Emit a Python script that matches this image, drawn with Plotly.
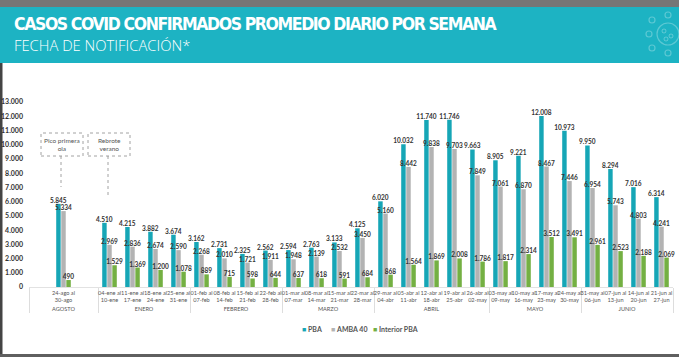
import plotly.graph_objects as go

# ---------------- data ----------------
week_labels = [
    "24-ago al<br>30-ago",
    "04-ene al<br>10-ene", "11-ene al<br>17-ene", "18-ene al<br>24-ene", "25-ene al<br>31-ene",
    "01-feb al<br>07-feb", "08-feb al<br>14-feb", "15-feb al<br>21-feb", "22-feb al<br>28-feb",
    "01-mar al<br>07-mar", "08-mar al<br>14-mar", "15-mar al<br>21-mar", "22-mar al<br>28-mar",
    "29-mar al<br>04-abr", "05-abr al<br>11-abr", "12-abr al<br>18-abr", "19-abr al<br>25-abr",
    "26-abr al<br>02-may",
    "03-may al<br>09-may", "10-may al<br>16-may", "17-may al<br>23-may", "24-may al<br>30-may",
    "31-may al<br>06-jun", "07-jun al<br>13-jun", "14-jun al<br>20-jun", "21-jun al<br>27-jun",
]
month_labels = [
    "AGOSTO",
    "ENERO", "ENERO", "ENERO", "ENERO",
    "FEBRERO", "FEBRERO", "FEBRERO", "FEBRERO",
    "MARZO", "MARZO", "MARZO", "MARZO",
    "ABRIL", "ABRIL", "ABRIL", "ABRIL", "ABRIL",
    "MAYO", "MAYO", "MAYO", "MAYO",
    "JUNIO", "JUNIO", "JUNIO", "JUNIO",
]
pba = [5845, 4510, 4215, 3882, 3674, 3162, 2731, 2325, 2562, 2594, 2763, 3133, 4125,
       6020, 10032, 11740, 11746, 9663, 8905, 9221, 12008, 10973, 9950, 8294, 7016, 6314]
amba40 = [5334, 2969, 2836, 2674, 2590, 2268, 2010, 1721, 1911, 1948, 2139, 2532, 3450,
          5160, 8442, 9838, 9703, 7849, 7061, 6870, 8467, 7446, 6954, 5743, 4803, 4241]
interior = [490, 1529, 1369, 1200, 1078, 889, 715, 598, 644, 637, 618, 591, 684,
            868, 1564, 1869, 2008, 1786, 1817, 2314, 3512, 3491, 2961, 2523, 2188, 2069]
series_names = ["PBA", "AMBA 40", "Interior PBA"]
y_ticks = list(range(0, 13001, 1000))

# ---------------- styling ----------------
C_PBA = "#16a6b6"
C_AMBA = "#b3b3b3"
C_INT = "#74b043"
C_HEAD = "#1db3c3"
FONT = "Lato"
colors = [C_PBA, C_AMBA, C_INT]

W_FIG, H_FIG = 679, 357
M_L, M_R, M_T, M_B = 29, 6, 102, 70
PW = W_FIG - M_L - M_R
PH = H_FIG - M_T - M_B


def px_x(px):
    return (px - M_L) / PW


def px_y(py):
    return (H_FIG - M_B - py) / PH


# AGOSTO block gets spacer slots on both sides (wider band, as in original)
xm, xw = [], []
vals = {n: [] for n in series_names}
for i, (m, w) in enumerate(zip(month_labels, week_labels)):
    if i == 0:
        xm.append(m); xw.append(" ")
        for n in series_names:
            vals[n].append(None)
    xm.append(m); xw.append(w)
    vals["PBA"].append(pba[i]); vals["AMBA 40"].append(amba40[i]); vals["Interior PBA"].append(interior[i])
    if i == 0:
        xm.append(m); xw.append("  ")
        for n in series_names:
            vals[n].append(None)

fig = go.Figure()
for n, c in zip(series_names, colors):
    fig.add_trace(go.Bar(
        x=[xm, xw], y=vals[n], name=n, marker_color=c, marker_line_width=0,
        texttemplate="%{y:,}", textposition="outside", constraintext="none",
        cliponaxis=False, showlegend=False,
        textfont=dict(size=6.5, color="#333333", family=FONT, weight="bold"),
    ))

shapes = []
# top gray strip, header band, left border, bottom strip
shapes.append(dict(type="rect", xref="paper", yref="paper", x0=px_x(0), x1=px_x(W_FIG),
                   y0=px_y(0), y1=px_y(7), fillcolor="#767676", line_width=0, layer="below"))
shapes.append(dict(type="rect", xref="paper", yref="paper", x0=px_x(0), x1=px_x(W_FIG),
                   y0=px_y(7), y1=px_y(63), fillcolor=C_HEAD, line_width=0, layer="below"))
shapes.append(dict(type="rect", xref="paper", yref="paper", x0=px_x(0), x1=px_x(2.5),
                   y0=px_y(63), y1=px_y(H_FIG), fillcolor="#444444", line_width=0, layer="below"))
shapes.append(dict(type="rect", xref="paper", yref="paper", x0=px_x(0), x1=px_x(W_FIG),
                   y0=px_y(354), y1=px_y(H_FIG), fillcolor="#5f5f5f", line_width=0, layer="below"))
# virus icon (faint)
ic = "rgba(255,255,255,0.28)"
cx, cy = 668, 34
shapes.append(dict(type="circle", xref="paper", yref="paper", x0=px_x(cx - 11), x1=px_x(cx + 11),
                   y0=px_y(cy + 11), y1=px_y(cy - 11), line=dict(color=ic, width=1.2)))
for dx, dy in [(-16, -14), (-19, 0), (-16, 14), (0, -19), (0, 19)]:
    shapes.append(dict(type="circle", xref="paper", yref="paper", x0=px_x(cx + dx - 3), x1=px_x(cx + dx + 3),
                       y0=px_y(cy + dy + 3), y1=px_y(cy + dy - 3), line=dict(color=ic, width=1.2)))
for dx, dy in [(-4, -3), (3, 2), (-2, 5)]:
    shapes.append(dict(type="circle", xref="paper", yref="paper", x0=px_x(cx + dx - 2), x1=px_x(cx + dx + 2),
                       y0=px_y(cy + dy + 2), y1=px_y(cy + dy - 2), line=dict(color=ic, width=1)))

# callout boxes
box_style = dict(color="#8a8a8a", width=0.8, dash="dot")
for (x0, x1, lx, ly) in [(41, 83, 61, 187), (88, 130, 108, 198)]:
    shapes.append(dict(type="rect", xref="paper", yref="paper", x0=px_x(x0), x1=px_x(x1),
                       y0=px_y(156), y1=px_y(133), line=box_style, fillcolor="white"))
    shapes.append(dict(type="line", xref="paper", yref="paper", x0=px_x(lx), x1=px_x(lx),
                       y0=px_y(156), y1=px_y(ly), line=box_style))

annotations = [
    dict(text="<span style='letter-spacing:-1.4px'><b>CASOS COVID CONFIRMADOS PROMEDIO DIARIO POR SEMANA</b></span>",
         xref="paper", yref="paper",
         x=px_x(13), y=px_y(24), xanchor="left", yanchor="middle", showarrow=False, borderpad=0,
         font=dict(family="DejaVu Sans Condensed", size=17.5, color="white")),
    dict(text="FECHA DE NOTIFICACIÓN*", xref="paper", yref="paper",
         x=px_x(13), y=px_y(44.5), xanchor="left", yanchor="middle", showarrow=False, borderpad=0,
         font=dict(family="Open Sans", size=14.8, color="white", weight=300)),
    dict(text="Pico primera<br>ola", xref="paper", yref="paper", x=px_x(62), y=px_y(144.5),
         xanchor="center", yanchor="middle", showarrow=False,
         font=dict(family=FONT, size=6.5, color="#555555")),
    dict(text="Rebrote<br>verano", xref="paper", yref="paper", x=px_x(109), y=px_y(144.5),
         xanchor="center", yanchor="middle", showarrow=False,
         font=dict(family=FONT, size=6.5, color="#555555")),
]
# legend (compact, like the original)
for n, c, lx in zip(series_names, colors, [300, 328.5, 371]):
    annotations.append(dict(
        text=f"<span style='color:{c}'>■</span> <b>{n}</b>", xref="paper", yref="paper",
        x=px_x(lx), y=px_y(329), xanchor="left", yanchor="middle", showarrow=False,
        font=dict(family=FONT, size=7, color="#555555")))

fig.update_layout(
    width=W_FIG, height=H_FIG,
    margin=dict(l=M_L, r=M_R, t=M_T, b=M_B, pad=0),
    paper_bgcolor="white", plot_bgcolor="white",
    separators=",.",
    barmode="group", bargap=0.34, bargroupgap=0.12,
    font=dict(family=FONT, color="#444444"),
    shapes=shapes, annotations=annotations,
    showlegend=False,
)
fig.update_xaxes(type="multicategory", showgrid=False, ticks="", showline=True, linecolor="#e2e2e2",
                 linewidth=1, showdividers=True, dividercolor="#dddddd", dividerwidth=1,
                 tickangle=0, automargin=False,
                 tickfont=dict(size=5.6, color="#555555", family=FONT))
fig.update_yaxes(range=[0, 13000], tickvals=y_ticks, tickformat=",d", showgrid=False, zeroline=False,
                 showline=False, ticks="", ticklabelstandoff=5, automargin=False,
                 tickfont=dict(size=7, color="#333333", family=FONT, weight="bold"))

fig.write_html("out.html", config={"displayModeBar": False},
               post_script="document.body.style.margin='0';document.body.style.overflow='hidden';")
